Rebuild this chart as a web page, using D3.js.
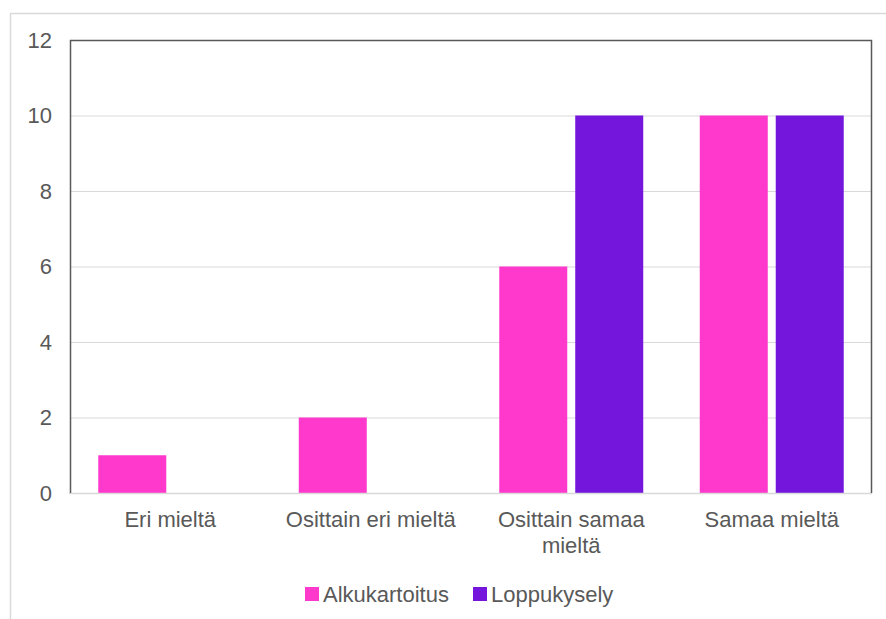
<!DOCTYPE html>
<html>
<head>
<meta charset="utf-8">
<script src="https://cdn.jsdelivr.net/npm/d3@7"></script>
<style>
  body { margin: 0; background: #fff; }
  text { font-family: "Liberation Sans", Arial, sans-serif; fill: #595959; }
</style>
</head>
<body>
<svg width="886" height="619"></svg>
<script>
var categories = ["Eri mieltä", "Osittain eri mieltä", "Osittain samaa mieltä", "Samaa mieltä"];
var seriesNames = ["Alkukartoitus", "Loppukysely"];
var alkukartoitus = [1, 2, 6, 10];
var loppukysely = [0, 0, 10, 10];
var yTicks = [0, 2, 4, 6, 8, 10, 12];
var colors = ["#ff39cc", "#7416dc"];

var svg = d3.select("svg");
var pLeft = 70, pRight = 872, pTop = 40, pBottom = 493;

// outer chart border
svg.append("rect")
  .attr("x", 10.5).attr("y", 13.5)
  .attr("width", 900).attr("height", 700)
  .attr("fill", "none").attr("stroke", "#d9d9d9").attr("stroke-width", 1.5);

var y = d3.scaleLinear().domain([0, 12]).range([pBottom, pTop]);
var x = d3.scaleBand().domain(categories).range([pLeft, pRight]);
var x1 = d3.scaleBand().domain(seriesNames).range([0, x.bandwidth()])
  .paddingInner(0.105).paddingOuter(0.372);

// gridlines
svg.append("g")
  .selectAll("line")
  .data(yTicks.filter(function(t){ return t > 0 && t < 12; }))
  .join("line")
  .attr("x1", pLeft).attr("x2", pRight)
  .attr("y1", function(d){ return y(d) + 0.5; })
  .attr("y2", function(d){ return y(d) + 0.5; })
  .attr("stroke", "#d9d9d9").attr("stroke-width", 1);

// y labels
var yAxis = d3.axisLeft(y).tickValues(yTicks).tickSize(0).tickPadding(18);
var ya = svg.append("g").attr("transform", "translate(" + pLeft + ",0)").call(yAxis);
ya.select(".domain").remove();
ya.selectAll("text").style("font-size", "22px").attr("fill", "#595959")
  .style("font-family", "'Liberation Sans', Arial, sans-serif");

// bars
var rows = categories.map(function(c, i){
  return [{s: seriesNames[0], v: alkukartoitus[i], c: c}, {s: seriesNames[1], v: loppukysely[i], c: c}];
});
svg.append("g")
  .selectAll("g")
  .data(rows)
  .join("g")
  .attr("transform", function(d){ return "translate(" + x(d[0].c) + ",0)"; })
  .selectAll("rect")
  .data(function(d){ return d.filter(function(e){ return e.v > 0; }); })
  .join("rect")
  .attr("x", function(d){ return x1(d.s); })
  .attr("width", x1.bandwidth())
  .attr("y", function(d){ return y(d.v); })
  .attr("height", function(d){ return y(0) - y(d.v); })
  .attr("fill", function(d){ return colors[seriesNames.indexOf(d.s)]; });

// baseline and frame
svg.append("line")
  .attr("x1", pLeft - 1).attr("x2", pRight)
  .attr("y1", pBottom + 0.5).attr("y2", pBottom + 0.5)
  .attr("stroke", "#d9d9d9").attr("stroke-width", 1.5);
svg.append("path")
  .attr("d", "M" + (pLeft + 0.5) + "," + pBottom + "V" + (pTop + 0.5) + "H" + (pRight - 0.5) + "V" + pBottom)
  .attr("fill", "none").attr("stroke", "#595959").attr("stroke-width", 1.5);

// category labels with wrapping
var xAxis = d3.axisBottom(x).tickSize(0).tickPadding(0);
var xa = svg.append("g").attr("transform", "translate(0," + pBottom + ")").call(xAxis);
xa.select(".domain").remove();
xa.selectAll("text").remove();
xa.selectAll(".tick").each(function(d){
  var words = d.split(" ");
  var t = d3.select(this).append("text")
    .attr("text-anchor", "middle")
    .style("font-size", "22px");
  var line = [], lineNo = 0;
  var tspan = t.append("tspan").attr("x", 0).attr("y", 34);
  words.forEach(function(w){
    line.push(w);
    tspan.text(line.join(" "));
    if (tspan.node().getComputedTextLength() > 190 && line.length > 1) {
      line.pop();
      tspan.text(line.join(" "));
      line = [w];
      lineNo++;
      tspan = t.append("tspan").attr("x", 0).attr("y", 34 + lineNo * 26).text(w);
    }
  });
});

// legend
var legendX = [305, 473];
var lg = svg.append("g").selectAll("g").data(seriesNames).join("g")
  .attr("transform", function(d, i){ return "translate(" + legendX[i] + ",587)"; });
lg.append("rect").attr("width", 14).attr("height", 14)
  .attr("fill", function(d, i){ return colors[i]; });
lg.append("text").attr("x", 18).attr("y", 14.5)
  .style("font-size", "22px").text(function(d){ return d; });
</script>
</body>
</html>
